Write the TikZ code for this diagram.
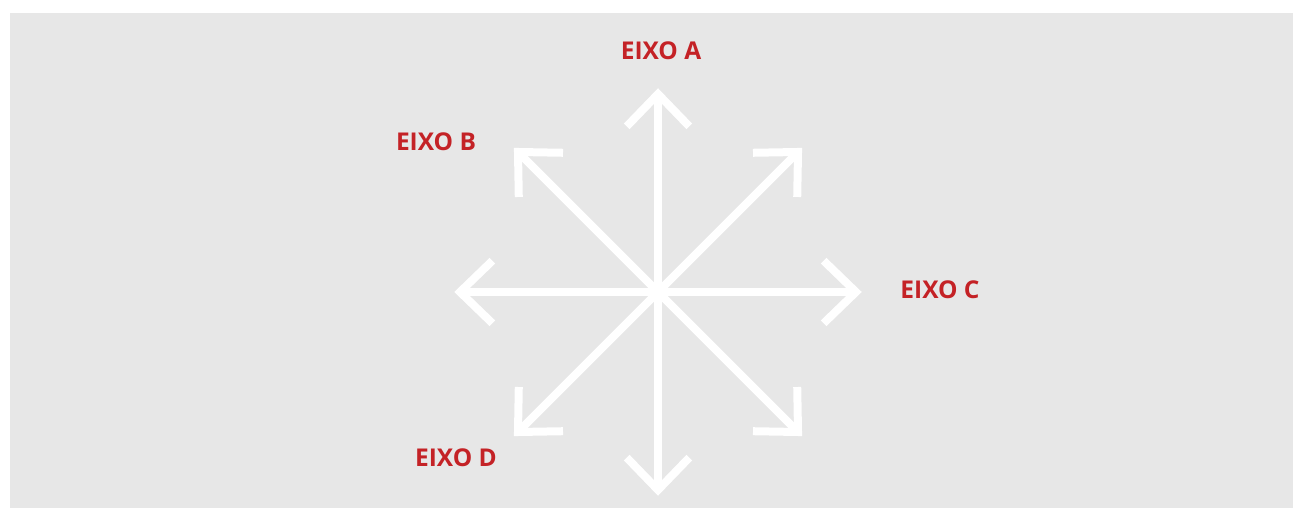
\documentclass[tikz,border=0pt]{standalone}
\usepackage{fontspec}
\setmainfont{Open Sans}
\usetikzlibrary{calc}
\definecolor{bggray}{RGB}{231,231,231}
\definecolor{labelred}{RGB}{196,34,38}
\begin{document}
\begin{tikzpicture}[x=1pt,y=1pt,
  shaft/.style={draw=white,line width=8pt,line cap=butt},
  barb/.style={draw=white,line width=8pt,line cap=butt,line join=miter},
  axislabel/.style={text=labelred,font=\bfseries\fontsize{24.5}{28}\selectfont,inner sep=0pt}]
\useasboundingbox (0,0) rectangle (1293,508);
\fill[bggray] (10,0) rectangle (1293,495);
\coordinate (c) at (658,216);
\foreach \ang/\nm in {90/n,45/ne,0/e,-45/se,-90/s,-135/sw,180/w,135/nw}{
  \coordinate (t\nm) at ($(c)+(\ang:198)$);
  \draw[shaft] (c) -- (t\nm);
  \draw[barb] ($(t\nm)+(\ang+136:45)$) -- (t\nm) -- ($(t\nm)+(\ang-136:45)$);
}
\node[axislabel] (la) at (661,457) {EIXO A};
\node[axislabel] (lb) at (436,366) {EIXO B};
\node[axislabel] (lc) at (940,218) {EIXO C};
\node[axislabel] (ld) at (456,50.5) {EIXO D};
\end{tikzpicture}
\end{document}
